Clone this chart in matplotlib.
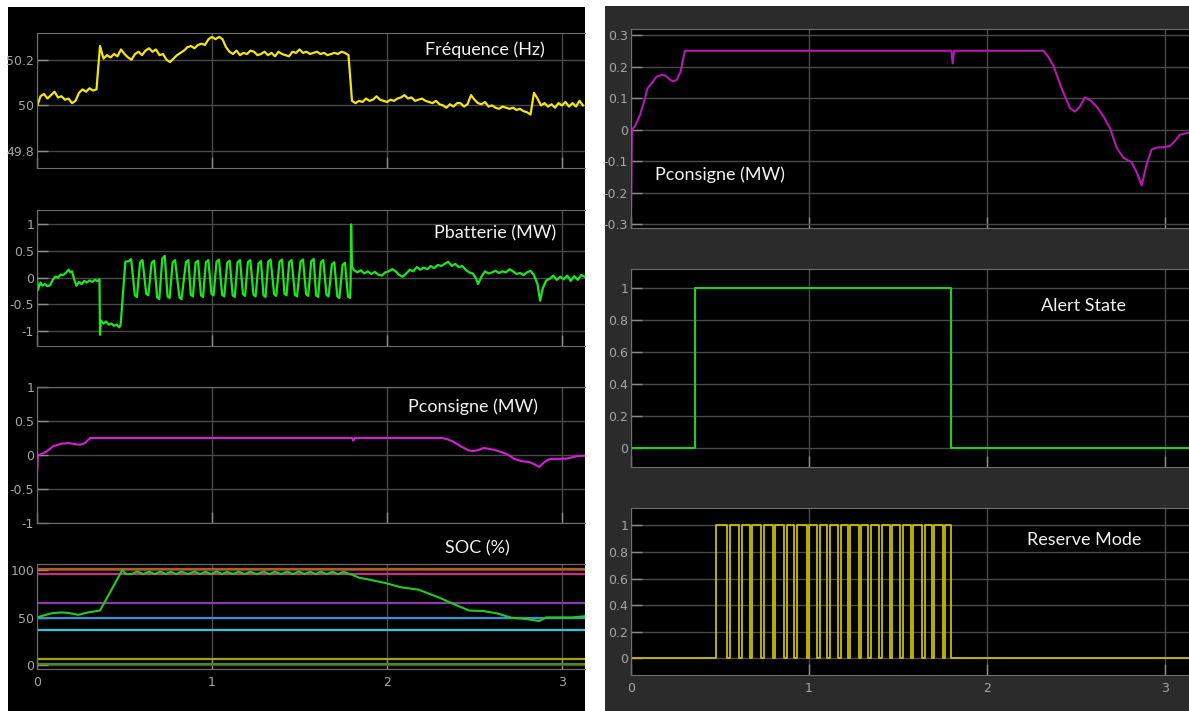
import numpy as np
import matplotlib
matplotlib.use("Agg")
import matplotlib.pyplot as plt
from matplotlib.patches import Rectangle

W, H = 1189, 711

# --- frequency (Hz), sampled every 0.02 s ---
freq_dt = 0.02
freq_v = [49.996, 50.04, 50.05, 50.03, 50.045, 50.06, 50.035, 50.04, 50.025, 50.03,
          50.01, 50.02, 50.055, 50.07, 50.06, 50.075, 50.065, 50.07, 50.26, 50.205,
          50.22, 50.21, 50.225, 50.215, 50.245, 50.225, 50.21, 50.2, 50.225, 50.235,
          50.22, 50.24, 50.25, 50.235, 50.245, 50.22, 50.225, 50.2, 50.19, 50.205,
          50.22, 50.23, 50.24, 50.255, 50.26, 50.25, 50.265, 50.27, 50.265, 50.29,
          50.3, 50.29, 50.3, 50.29, 50.255, 50.235, 50.225, 50.24, 50.22, 50.23,
          50.225, 50.24, 50.235, 50.22, 50.225, 50.235, 50.22, 50.23, 50.215, 50.235,
          50.225, 50.22, 50.215, 50.235, 50.23, 50.245, 50.23, 50.235, 50.225, 50.23,
          50.235, 50.225, 50.23, 50.22, 50.225, 50.23, 50.225, 50.235, 50.23, 50.22,
          50.02, 50.01, 50.02, 50.015, 50.03, 50.02, 50.025, 50.04, 50.025, 50.02,
          50.015, 50.025, 50.02, 50.03, 50.035, 50.045, 50.03, 50.035, 50.02, 50.025,
          50.03, 50.02, 50.015, 50.01, 50.02, 50.005, 50.0, 49.99, 50.005, 49.995,
          50.01, 50.01, 49.995, 50.005, 50.045, 50.025, 50.01, 50.005, 50.015, 49.995,
          50.0, 49.99, 49.985, 49.995, 49.99, 49.985, 49.99, 49.98, 49.985, 49.975,
          49.97, 49.96, 50.055, 50.03, 50.0, 50.01, 49.995, 50.005, 49.99, 50.01,
          50.0, 50.015, 49.995, 50.01, 49.995, 50.02, 50.0]

# --- battery power (MW) ---
pbat_t = [0.0, 0.005, 0.02, 0.03, 0.045, 0.06, 0.075, 0.09, 0.105, 0.12, 0.135, 0.15,
          0.165, 0.18, 0.19, 0.2, 0.21, 0.225, 0.24, 0.255, 0.27, 0.285, 0.3, 0.315,
          0.33, 0.345, 0.357, 0.36, 0.365, 0.38, 0.395, 0.41, 0.425, 0.44, 0.455, 0.47,
          0.478, 0.505,
          0.524, 0.538, 0.559, 0.571, 0.589, 0.603, 0.624, 0.636, 0.655, 0.669,
          0.687, 0.699, 0.716, 0.73, 0.746, 0.758, 0.775, 0.789, 0.814, 0.826,
          0.851, 0.865, 0.879, 0.891, 0.906, 0.92, 0.937, 0.949, 0.965, 0.979,
          0.997, 1.009, 1.026, 1.04, 1.058, 1.07, 1.087, 1.101, 1.118, 1.13,
          1.146, 1.16, 1.177, 1.189, 1.205, 1.219, 1.237, 1.249, 1.266, 1.28,
          1.294, 1.306, 1.321, 1.335, 1.355, 1.367, 1.386, 1.4, 1.414, 1.426,
          1.441, 1.455, 1.474, 1.486, 1.506, 1.52, 1.538, 1.55, 1.567, 1.581,
          1.595, 1.607, 1.622, 1.636, 1.654, 1.666, 1.685, 1.699, 1.716, 1.728,
          1.746, 1.76, 1.777, 1.789,
          1.792, 1.795, 1.8, 1.81, 1.83, 1.85, 1.87, 1.89, 1.91, 1.93, 1.95, 1.97, 1.99,
          2.01, 2.03, 2.05, 2.07, 2.09, 2.11, 2.13, 2.15, 2.17, 2.19, 2.21, 2.23, 2.25,
          2.27, 2.29, 2.31, 2.33, 2.35, 2.37, 2.39, 2.41, 2.43, 2.45, 2.47, 2.49, 2.51,
          2.52, 2.54, 2.56, 2.58, 2.6, 2.62, 2.64, 2.66, 2.68, 2.7, 2.72, 2.74, 2.76,
          2.78, 2.8, 2.82, 2.84, 2.86, 2.875, 2.89, 2.91, 2.93, 2.95, 2.97, 2.99, 3.01,
          3.03, 3.05, 3.07, 3.09, 3.11, 3.13]
pbat_v = [0.0, -0.23, -0.09, -0.15, -0.12, -0.16, -0.14, -0.04, 0.02, 0.0, 0.06, 0.05,
          0.09, 0.15, 0.1, 0.12, 0.0, -0.15, -0.08, -0.12, -0.06, -0.09, -0.05, -0.08,
          -0.04, -0.06, -0.03, -1.07, -0.8, -0.86, -0.82, -0.88, -0.86, -0.9, -0.88, -0.93,
          -0.88, 0.3,
          0.31, 0.35, -0.33, -0.36, 0.29, 0.33, -0.3, -0.33, 0.28, 0.32,
          -0.37, -0.4, 0.36, 0.41, -0.35, -0.38, 0.29, 0.33, -0.37, -0.4,
          0.29, 0.33, -0.32, -0.35, 0.28, 0.32, -0.33, -0.36, 0.29, 0.33,
          -0.3, -0.33, 0.3, 0.34, -0.32, -0.35, 0.28, 0.32, -0.33, -0.36,
          0.29, 0.33, -0.31, -0.34, 0.29, 0.33, -0.32, -0.35, 0.27, 0.31,
          -0.33, -0.36, 0.3, 0.34, -0.31, -0.34, 0.3, 0.34, -0.3, -0.33,
          0.29, 0.33, -0.32, -0.35, 0.3, 0.34, -0.31, -0.34, 0.31, 0.35,
          -0.33, -0.36, 0.29, 0.33, -0.32, -0.35, 0.25, 0.29, -0.35, -0.38,
          0.24, 0.28, -0.35, -0.38,
          -0.1, 1.0, 0.2, 0.15, 0.1, 0.14, 0.08, 0.12, 0.07, 0.11, 0.06, 0.04, 0.1,
          0.12, 0.16, 0.12, 0.05, 0.02, 0.08, 0.15, 0.12, 0.2, 0.15, 0.19, 0.16, 0.22,
          0.18, 0.24, 0.22, 0.26, 0.3, 0.22, 0.26, 0.2, 0.22, 0.15, 0.1, 0.08, -0.02,
          -0.12, 0.02, 0.12, 0.08, 0.1, 0.13, 0.09, 0.12, 0.1, 0.16, 0.12, 0.07, 0.09,
          0.05, 0.1, 0.13, 0.05, -0.12, -0.43, -0.2, -0.05, -0.02, 0.04, -0.04, 0.02, -0.03,
          0.04, -0.06, 0.03, -0.04, 0.05, 0.02]

# --- power setpoint (MW) ---
pcons_t = [0.0, 0.0, 0.005, 0.022, 0.051, 0.079, 0.092, 0.116, 0.144, 0.167, 0.182,
           0.2, 0.219, 0.238, 0.257, 0.279, 0.29, 0.303, 1.8, 1.807, 1.815, 2.317,
           2.345, 2.373, 2.42, 2.466, 2.494, 2.522, 2.55, 2.579, 2.616, 2.654, 2.691,
           2.728, 2.766, 2.813, 2.841, 2.869, 2.897, 2.925, 2.953, 2.99, 3.028, 3.056,
           3.084, 3.135]
pcons_v = [0.0, -0.25, 0.0, 0.01, 0.047, 0.1, 0.13, 0.147, 0.168, 0.172, 0.174,
           0.168, 0.158, 0.153, 0.158, 0.184, 0.216, 0.25, 0.25, 0.21, 0.25, 0.25,
           0.23, 0.203, 0.13, 0.068, 0.057, 0.073, 0.102, 0.094, 0.073, 0.042, 0.005,
           -0.057, -0.089, -0.104, -0.135, -0.177, -0.11, -0.063, -0.057, -0.056, -0.052,
           -0.036, -0.016, -0.01]

# --- state of charge (%) ---
soc_t = [0.0, 0.05, 0.094, 0.14, 0.18, 0.236, 0.29, 0.36, 0.487, 0.51,
         0.54, 0.574, 0.607, 0.64, 0.672, 0.705, 0.735, 0.764, 0.795, 0.825, 0.863,
         0.901, 0.932, 0.963, 0.995, 1.026, 1.057, 1.087, 1.12, 1.153, 1.185, 1.218,
         1.257, 1.295, 1.328, 1.36, 1.395, 1.43, 1.463, 1.496, 1.528, 1.561, 1.592,
         1.622, 1.655, 1.688, 1.72, 1.753, 1.785,
         1.797, 1.84, 1.9, 1.99, 2.08, 2.18, 2.3, 2.36, 2.47, 2.55, 2.63, 2.71, 2.8,
         2.87, 2.91, 3.06, 3.13]
soc_v = [50.3, 53, 55, 55.5, 55, 53, 55.5, 57.5, 100, 96,
         95.8, 98.8, 95.8, 98.5, 95.8, 98.6, 95.8, 98.4, 95.8, 98.5, 95.8,
         98.7, 95.8, 98.4, 95.8, 98.8, 95.8, 98.3, 95.8, 98.5, 95.8, 98.4,
         95.8, 98.6, 95.8, 98.4, 95.8, 98.5, 95.8, 98.7, 95.8, 98.4, 95.8,
         98.5, 95.8, 98.3, 95.8, 98.4, 95.8,
         95.5, 92, 90, 86.5, 82, 79.5, 71, 66, 57.5, 57, 54.5, 50, 48.5,
         46.5, 50.3, 50.3, 51.5]
soc_levels = [101, 96, 65, 50, 37, 6, 1]
soc_level_colors = ["#c0561e", "#c8307e", "#8b3aa8", "#3b8fd4", "#2ec8d8", "#a8a000", "#4e8c1a"]

# --- alert state / reserve mode (step signals) ---
alert_t = [0, 0.36, 1.80, 3.135]
alert_v = [0, 1, 0, 0]
reserve_t = [0, 0.479, 0.540, 0.554, 0.607, 0.621, 0.667, 0.681, 0.731, 0.745, 0.796,
             0.810, 0.860, 0.874, 0.918, 0.932, 0.986, 1.000, 1.047, 1.061, 1.102,
             1.116, 1.163, 1.177, 1.219, 1.233, 1.280, 1.294, 1.332, 1.346, 1.396,
             1.410, 1.454, 1.468, 1.514, 1.528, 1.573, 1.587, 1.635, 1.649, 1.691,
             1.705, 1.751, 1.765, 1.798, 3.135]
reserve_v = [0, 1] + [0, 1] * 21 + [0, 0]

freq_t = np.arange(len(freq_v)) * freq_dt

fig = plt.figure(figsize=(W / 100, H / 100), dpi=100, facecolor="white")

# scope backgrounds
fig.patches.append(Rectangle((8 / W, 0), (585 - 8) / W, 1 - 7 / H, transform=fig.transFigure,
                             facecolor="black", edgecolor="none", zorder=-5))
fig.patches.append(Rectangle((605 / W, 0), (W - 605) / W, 1 - 6 / H, transform=fig.transFigure,
                             facecolor="#2b2b2b", edgecolor="none", zorder=-5))


def px_axes(x0, y0, x1, y1):
    return fig.add_axes([x0 / W, 1 - y1 / H, (x1 - x0) / W, (y1 - y0) / H])


def style(ax, xmax, ylim, yticks, ylabels, show_x=False):
    ax.set_facecolor("black")
    ax.set_xlim(0, xmax)
    ax.set_ylim(*ylim)
    ax.set_xticks([0, 1, 2, 3])
    ax.set_yticks(yticks)
    ax.set_yticklabels(ylabels)
    ax.grid(True, color="#4a4a4a", lw=1)
    ax.tick_params(direction="in", length=8, width=1, color="#8c8c8c",
                   labelcolor="#a6a6a6", labelsize=9, pad=2)
    ax.tick_params(axis="x", pad=5, labelbottom=show_x)
    for s in ax.spines.values():
        s.set_color("#6e6e6e")
    ax.spines["right"].set_visible(False)


def label(x, y, s):
    fig.text(x / W, 1 - y / H, s, color="#f2f2f2", fontsize=13, family=["Lato", "DejaVu Sans"],
             va="center", ha="left")


LX = (585 - 37) / 175
RX = (W - 631) / 178

# left scope
ax = px_axes(37, 33, 585, 168)
style(ax, LX, (49.726, 50.317), [49.8, 50, 50.2], ["49.8", "50", "50.2"])
ax.plot(freq_t, freq_v, color="#f2e60f", lw=1.6)
label(425, 50, "Fréquence (Hz)")

ax = px_axes(37, 210, 585, 346)
style(ax, LX, (-1.28, 1.27), [-1, -0.5, 0, 0.5, 1], ["-1", "-0.5", "0", "0.5", "1"])
ax.plot(pbat_t, pbat_v, color="#1ee61e", lw=1.6)
label(434, 233, "Pbatterie (MW)")

ax = px_axes(37, 387, 585, 523)
style(ax, LX, (-1, 1), [-1, -0.5, 0, 0.5, 1], ["-1", "-0.5", "0", "0.5", "1"])
ax.plot(pcons_t, pcons_v, color="#d81ed8", lw=1.5)
label(408, 407, "Pconsigne (MW)")

ax = px_axes(37, 564, 585, 669)
style(ax, LX, (-4, 106.5), [0, 50, 100], ["0", "50", "100"], show_x=True)
for lvl, c in zip(soc_levels, soc_level_colors):
    ax.axhline(lvl, color=c, lw=1.6)
ax.plot(soc_t, soc_v, color="#22cc22", lw=1.5)
label(445, 548, "SOC (%)")

# right scope
ax = px_axes(631, 29, W, 228)
style(ax, RX, (-0.312, 0.319), [-0.3, -0.2, -0.1, 0, 0.1, 0.2, 0.3],
      ["-0.3", "-0.2", "-0.1", "0", "0.1", "0.2", "0.3"])
ax.plot(pcons_t, pcons_v, color="#b518b5", lw=1.5)
label(655, 175, "Pconsigne (MW)")

ax = px_axes(631, 269, W, 467)
style(ax, RX, (-0.12, 1.12), [0, 0.2, 0.4, 0.6, 0.8, 1], ["0", "0.2", "0.4", "0.6", "0.8", "1"])
ax.plot(alert_t, alert_v, color="#22cc22", lw=1.5, drawstyle="steps-post")
label(1041, 306, "Alert State")

ax = px_axes(631, 508, W, 675)
style(ax, RX, (-0.125, 1.13), [0, 0.2, 0.4, 0.6, 0.8, 1], ["0", "0.2", "0.4", "0.6", "0.8", "1"],
      show_x=True)
ax.plot(reserve_t, reserve_v, color="#c8bd00", lw=1.3, drawstyle="steps-post")
label(1027, 540, "Reserve Mode")

fig.savefig("out.png", dpi=100, facecolor="white")
